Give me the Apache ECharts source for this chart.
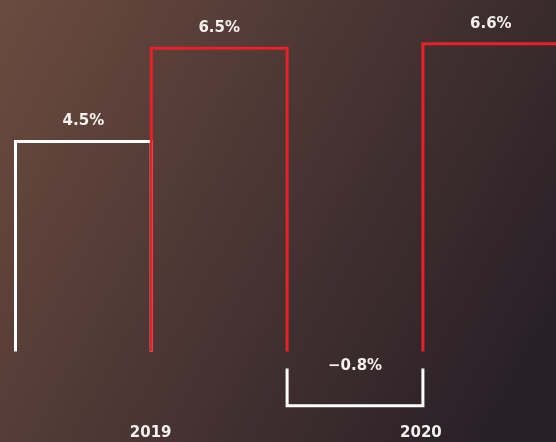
<!DOCTYPE html>
<html><head><meta charset="utf-8">
<script src="https://cdn.jsdelivr.net/npm/echarts@6/dist/echarts.min.js"></script>
<style>html,body{margin:0;padding:0;background:#3a2c30;}#c{width:556px;height:442px;}</style>
</head>
<body><div id="c"></div>
<script>
const categories = ['2019', '2020'];
const whiteValues = [4.5, -0.8];
const redValues = [6.5, 6.6];
const seriesColors = ['#ffffff', '#e8202a'];
const FONT_FAMILY = 'DejaVu Sans';
const FONT = 'bold 15px "DejaVu Sans"';

function fmt(v) {
  return (v < 0 ? '\u2212' + Math.abs(v).toFixed(1) : v.toFixed(1)) + '%';
}

function renderItem(params, api) {
  const ci = api.value(0), v = api.value(1);
  const zero = api.coord([ci, 0]);
  const top = api.coord([ci, v]);
  const bw = api.size([1, 0])[0];
  const isWhite = params.seriesIndex === 0;
  const xa = isWhite ? zero[0] - bw / 2 : zero[0];
  const xb = isWhite ? zero[0] : zero[0] + bw / 2;
  const gap = v >= 0 ? -8 : 9;
  const base = zero[1] + gap;
  const end = top[1] + gap;
  const color = seriesColors[params.seriesIndex];
  const ly = v >= 0 ? end - 20 : base - 2;
  return {
    type: 'group',
    children: [
      { type: 'polyline', shape: { points: [[xa, base], [xa, end], [xb, end], [xb, base]] },
        style: { stroke: color, lineWidth: 3, fill: null, lineJoin: 'miter' } },
      { type: 'text', style: { text: fmt(v), x: (xa + xb) / 2, y: ly, fill: '#f4f1ef',
        font: FONT, align: 'center', verticalAlign: 'middle' } }
    ]
  };
}

const chart = echarts.init(document.getElementById('c'));
chart.setOption({
  animation: false,
  backgroundColor: new echarts.graphic.LinearGradient(0, 0, 1, 0.7, [
    { offset: 0, color: '#6c4b3f' }, { offset: 1, color: '#292027' }
  ]),
  grid: { left: 15.5, right: 0, top: 33, bottom: 36, containLabel: false },
  xAxis: [
    { type: 'value', min: -0.5, max: 1.49, show: false, splitLine: { show: false } },
    {
      type: 'category', data: categories, position: 'bottom',
      axisLine: { show: false }, axisTick: { show: false }, splitLine: { show: false },
      axisLabel: { color: '#f4f1ef', fontWeight: 'bold', fontSize: 15, fontFamily: FONT_FAMILY, margin: 20 }
    }
  ],
  yAxis: { type: 'value', min: -1, max: 7, show: false, splitLine: { show: false } },
  series: [
    { type: 'custom', name: 'white', xAxisIndex: 0, renderItem, clip: false,
      data: categories.map((c, i) => [i, whiteValues[i]]) },
    { type: 'custom', name: 'red', xAxisIndex: 0, renderItem, clip: false,
      data: categories.map((c, i) => [i, redValues[i]]) }
  ]
});
</script>
</body></html>
